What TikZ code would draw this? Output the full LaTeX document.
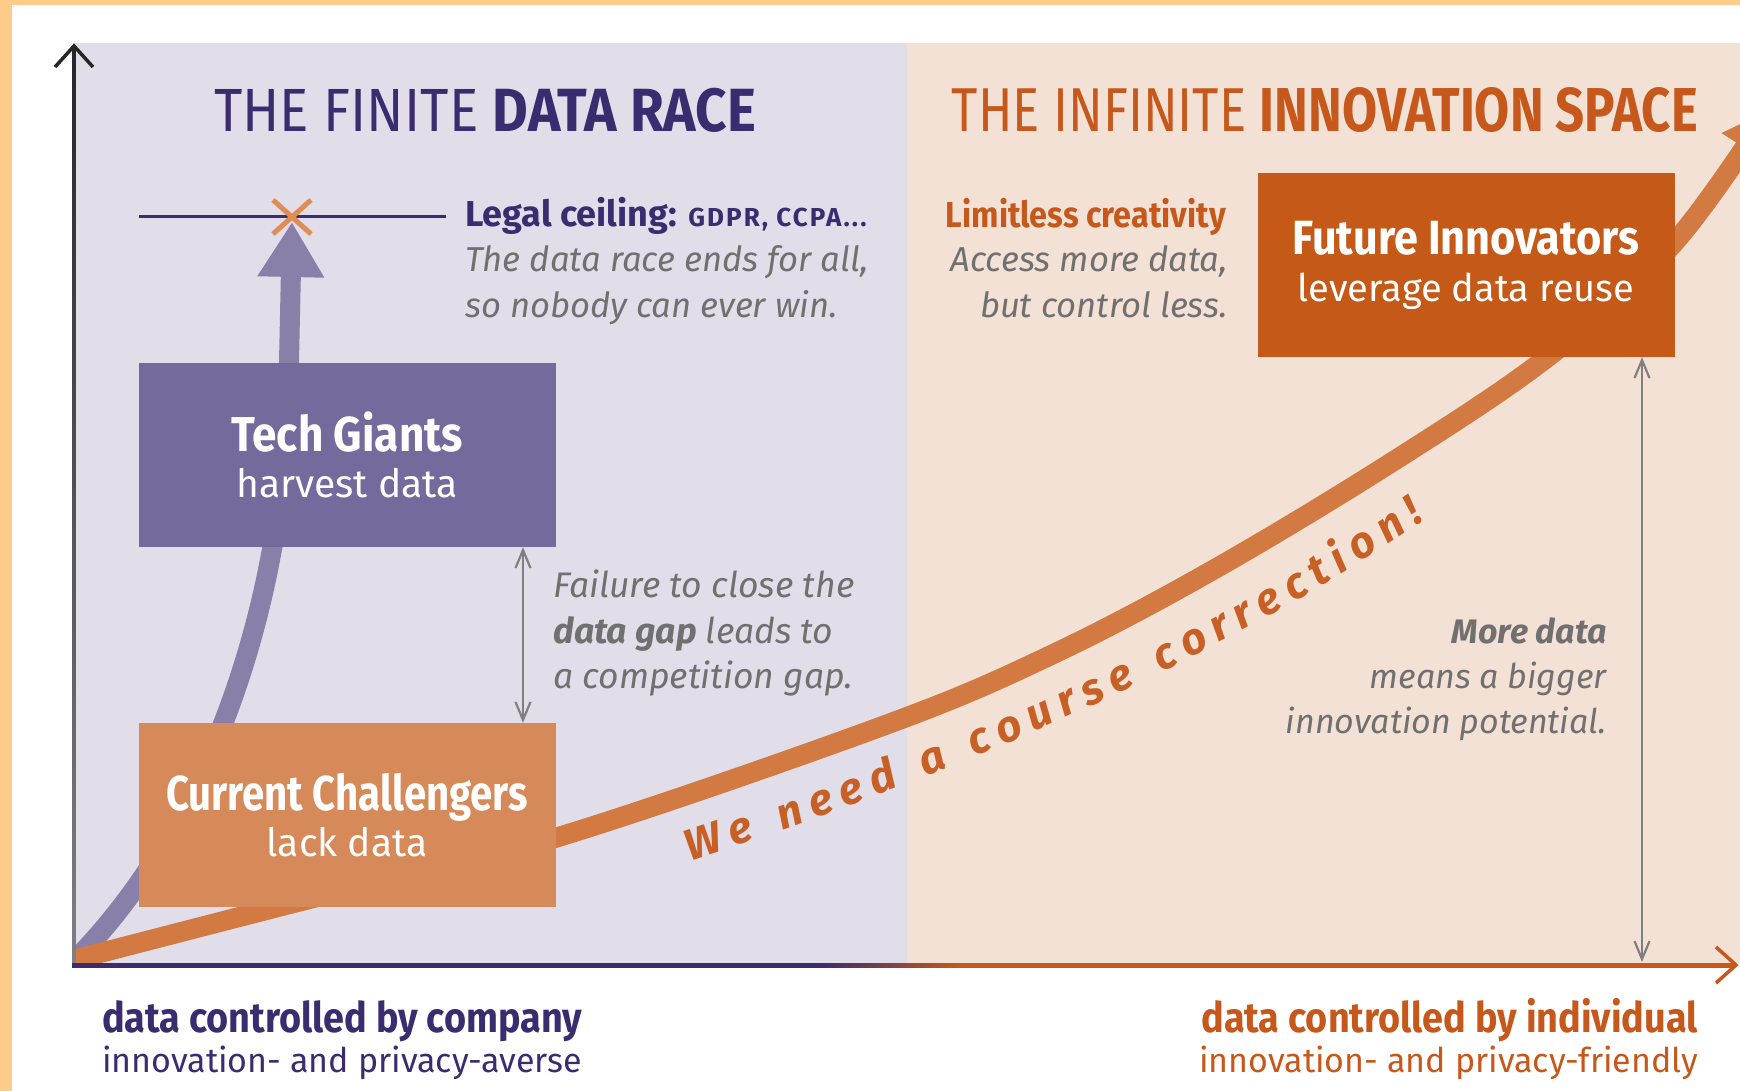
\documentclass[tikz,border=0pt]{standalone}
\usepackage{fontspec}
\setmainfont{Fira Sans}
\newfontfamily\midfont[FakeStretch=0.9]{Fira Sans}
\newfontfamily\narrowfont[FakeStretch=0.82]{Fira Sans}
\usetikzlibrary{arrows.meta,decorations.text}

\definecolor{frame}{RGB}{255,203,139}
\definecolor{racebg}{RGB}{225,222,234}
\definecolor{spacebg}{RGB}{243,225,214}
\definecolor{darkpurple}{RGB}{59,44,112}
\definecolor{giantfill}{RGB}{116,106,155}
\definecolor{giantline}{RGB}{137,128,169}
\definecolor{challfill}{RGB}{214,138,90}
\definecolor{innovfill}{RGB}{197,89,23}
\definecolor{courseline}{RGB}{210,122,66}
\definecolor{darkorange}{RGB}{197,88,26}
\definecolor{slogan}{RGB}{200,96,38}
\definecolor{notegray}{RGB}{112,112,112}
\definecolor{gapgray}{RGB}{128,128,128}
\definecolor{crossorange}{RGB}{224,140,85}

\newcommand\sloganfont{\bfseries\itshape\fontsize{44}{44}\selectfont}

\begin{document}
\begin{tikzpicture}[
    x = 1pt, y = -1pt,
    heading/.style = {inner sep=0pt, font=\narrowfont\fontsize{62}{62}\selectfont},
    lead/.style = {inner sep=0pt, font=\bfseries\fontsize{36}{40}\selectfont},
    note/.style = {inner sep=0pt, text=notegray, font=\itshape\fontsize{34.6}{40}\selectfont},
    gapnote/.style = {inner sep=0pt, text=notegray, font=\itshape\fontsize{35.5}{40}\selectfont},
    potnote/.style = {gapnote, font=\itshape\fontsize{34}{40}\selectfont},
    axislabel/.style = {inner sep=0pt, font=\midfont\bfseries\fontsize{42}{46}\selectfont},
    axisnote/.style = {inner sep=0pt, font=\fontsize{34}{40}\selectfont},
    box/.style = {rectangle, inner sep=0pt, minimum width=417pt, minimum height=184pt,
      align=center, text=white, font=\fontsize{39}{46}\selectfont},
    giant/.style = {box, fill=giantfill},
    challenger/.style = {box, fill=challfill},
    innovator/.style = {box, fill=innovfill},
    bigline/.style = {line width=20pt},
    gaparrow/.style = {draw=gapgray, line width=2.2pt,
      {Straight Barb[length=18pt,width=15pt]}-{Straight Barb[length=18pt,width=15pt]}},
    ceiling/.style = {draw=darkpurple, line width=3pt},
    cross/.style = {draw=crossorange, line width=5pt}
  ]
  \useasboundingbox (0,0) rectangle (1740,1091);
  \fill[frame] (0,0) rectangle (1740,1091);
  \fill[white] (12,5) rectangle (1740,1091);
  \fill[racebg] (73,43) rectangle (907,963);
  \fill[spacebg] (907,43) rectangle (1740,963);

  \coordinate (O) at (73,962);
  \coordinate (gapx) at (523,0);
  \coordinate (potx) at (1642,962);

  % Curves
  \begin{scope}
    \clip (73,43) rectangle (1740,963);
    \draw[bigline, draw=giantline, -{Triangle[length=55pt,width=63pt]}]
      (O) .. controls (203,832) and (288,612) .. (289,362) -- (292,222);
    \draw[bigline, draw=courseline, -{Triangle[length=45pt,width=52pt]}]
      plot[smooth, tension=0.6] coordinates {(73,960) (333,893) (555,838) (880,727)
        (1047,657) (1213,570) (1400,457) (1553,353) (1674,243) (1769,110)};
  \end{scope}

  \draw[ceiling] (139,217) -- (446,217);
  \draw[cross] (273,200) -- (311,234) (273,234) -- (311,200);

  % Boxes
  \node[giant] (tg) at (347,455)
    {{\midfont\bfseries\fontsize{49}{46}\selectfont Tech Giants}\\harvest data};
  \node[challenger] (cc) at (347,815)
    {{\narrowfont\bfseries\fontsize{49}{46}\selectfont Current Challengers}\\lack data};
  \node[innovator, font=\fontsize{38}{47}\selectfont] (fi) at (1466,265)
    {{\midfont\bfseries\fontsize{48}{47}\selectfont Future Innovators}\\leverage data reuse};

  \draw[gaparrow] (tg.south -| gapx) -- (cc.north -| gapx);
  \draw[gaparrow] (fi.south -| potx) -- (potx);

  % Axes
  \shade[top color=black!85, bottom color=gapgray] (72,47) rectangle (75.5,963);
  \draw[line width=3.5pt, black!85] (55,67) -- (74,46) -- (93,67);
  \fill[darkpurple] (72,963) rectangle (820,967.5);
  \shade[left color=darkpurple, right color=darkorange] (820,963) rectangle (960,967.5);
  \fill[darkorange] (960,963) rectangle (1735,967.5);
  \draw[line width=3.5pt, darkorange] (1716,947) -- (1736,965) -- (1716,983);

  % Labels
  \node[heading, font=\midfont\fontsize{61}{61}\selectfont, text=darkpurple,
    anchor=base west] (racehead) at (214,132) {THE FINITE \textbf{DATA RACE}};
  \node[heading, text=darkorange, anchor=base east] (spacehead) at (1698,132)
    {THE INFINITE \textbf{INNOVATION SPACE}};

  \node[lead, text=darkpurple, anchor=base west] (ceil) at (465,227)
    {Legal ceiling: {\addfontfeature{LetterSpace=8}\fontsize{26}{26}\selectfont GDPR, CCPA...}};
  \begin{scope}[nodes = {note, anchor = base west}]
    \node (ceil1) at (465,272) {The data race ends for all,};
    \node (ceil2) at (465,317) {so nobody can ever win.};
  \end{scope}

  \node[lead, font=\midfont\bfseries\fontsize{36}{40}\selectfont, text=darkorange,
    anchor=base east] (lim) at (1226,228) {Limitless creativity};
  \begin{scope}[nodes = {note, anchor = base east}]
    \node (lim1) at (1228,272) {Access more data,};
    \node (lim2) at (1228,317) {but control less.};
  \end{scope}

  \begin{scope}[nodes = {gapnote, anchor = base west}]
    \node (gap1) at (553,597) {Failure to close the};
    \node (gap2) at (553,643) {\textbf{data gap} leads to};
    \node (gap3) at (553,688) {a competition gap.};
  \end{scope}

  \begin{scope}[nodes = {potnote, anchor = base east}]
    \node (pot1) at (1607,643) {\textbf{More data}};
    \node (pot2) at (1607,688) {means a bigger};
    \node (pot3) at (1607,733) {innovation potential.};
  \end{scope}

  \node[axislabel, text=darkpurple, anchor=base west] (company) at (102,1032)
    {data controlled by company};
  \node[axisnote, text=darkpurple, anchor=base west] (company2) at (102,1072)
    {innovation- and privacy-averse};
  \node[axislabel, text=darkorange, anchor=base east] (individual) at (1698,1032)
    {data controlled by individual};
  \node[axisnote, text=darkorange, anchor=base east] (individual2) at (1698,1072)
    {innovation- and privacy-friendly};

  % Slogan
  \path[font=\sloganfont, decorate, decoration={text effects along path,
      text={We need a course correction!},
      text effects/.cd, text along path,
      characters={text=slogan, font=\sloganfont},
      character widths={font=\sloganfont, inner xsep=4.5pt}}]
    (686,863) .. controls (1012,755) and (1307,622) .. (1533,440);
\end{tikzpicture}
\end{document}
